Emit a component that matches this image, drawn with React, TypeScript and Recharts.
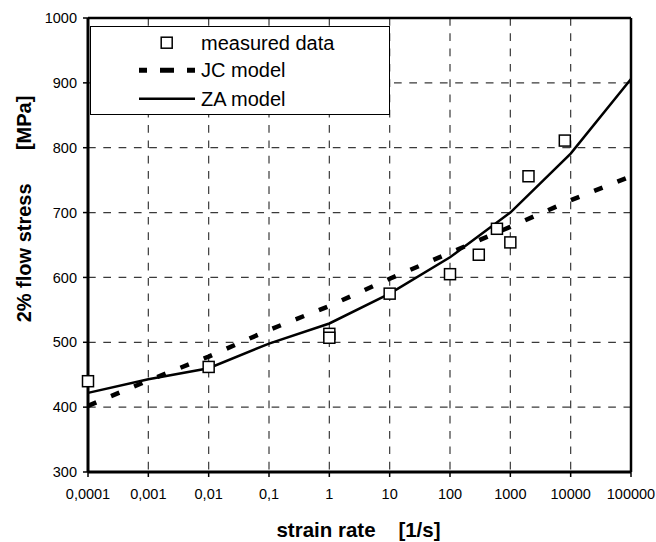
import React from 'react';
import {
  ComposedChart,
  Line,
  Scatter,
  XAxis,
  YAxis,
  CartesianGrid,
  ReferenceLine,
  Label,
} from 'recharts';

// ---- data ----
const xTicks = [0.0001, 0.001, 0.01, 0.1, 1, 10, 100, 1000, 10000, 100000];
const xTickLabels = ['0,0001', '0,001', '0,01', '0,1', '1', '10', '100', '1000', '10000', '100000'];
const yTicks = [300, 400, 500, 600, 700, 800, 900, 1000];

const measuredRate = [0.0001, 0.01, 1, 1, 10, 100, 300, 600, 1000, 2000, 8000];
const measuredStress = [440, 462, 513, 507, 575, 605, 635, 675, 654, 756, 811];

const modelRate = [0.0001, 0.001, 0.01, 0.1, 1, 10, 100, 1000, 10000, 100000];
const jcStress = [402, 441, 478, 519, 556, 598, 638, 678, 719, 756];
const zaStress = [422, 443, 460, 498, 529, 575, 631, 700, 791, 906];

const seriesNames = ['measured data', 'JC model', 'ZA model'];
const xTitle = 'strain rate\u00A0\u00A0\u00A0\u00A0[1/s]';
const yTitle = '2% flow stress\u00A0\u00A0\u00A0\u00A0\u00A0\u00A0[MPa]';

const measuredData = measuredRate.map((x, i) => ({ x, y: measuredStress[i] }));
const jcData = modelRate.map((x, i) => ({ x, y: jcStress[i] }));
const zaData = modelRate.map((x, i) => ({ x, y: zaStress[i] }));

const FONT = '"Liberation Sans", Arial, sans-serif';

const SquareShape = (props: any) => {
  const { cx, cy } = props;
  if (cx == null || cy == null) return null;
  return (
    <rect x={cx - 5.5} y={cy - 5.5} width={11} height={11} fill="#fff" stroke="#000" strokeWidth={1.5} />
  );
};

const fmtX = (v: number) => {
  const i = xTicks.findIndex((t) => Math.abs(Math.log10(t) - Math.log10(v)) < 1e-6);
  return i >= 0 ? xTickLabels[i] : String(v);
};

const LegendBox = () => (
  <div
    style={{
      position: 'absolute',
      left: 90,
      top: 26,
      width: 300,
      height: 89,
      boxSizing: 'border-box',
      border: '1px solid #000',
      background: '#fff',
    }}
  >
    <svg width={298} height={87} style={{ display: 'block' }}>
      <rect x={70.2} y={10.2} width={11} height={11} fill="#fff" stroke="#000" strokeWidth={1.5} />
      <text x={110} y={15.7} dominantBaseline="central" fontFamily={FONT} fontSize={20} fill="#000">
        {seriesNames[0]}
      </text>
      <line
        x1={48}
        y1={43.3}
        x2={104}
        y2={43.3}
        stroke="#000"
        strokeWidth={5}
        strokeDasharray="14 13"
        strokeDashoffset={6}
      />
      <text x={110} y={43.3} dominantBaseline="central" fontFamily={FONT} fontSize={20} fill="#000">
        {seriesNames[1]}
      </text>
      <line x1={48} y1={71.7} x2={104} y2={71.7} stroke="#000" strokeWidth={2.5} />
      <text x={110} y={71.7} dominantBaseline="central" fontFamily={FONT} fontSize={20} fill="#000">
        {seriesNames[2]}
      </text>
    </svg>
  </div>
);

export default function App() {
  return (
    <div style={{ position: 'relative', width: 656, height: 542, background: '#fff', fontFamily: FONT }}>
      <style>{'body{margin:0}'}</style>
      <ComposedChart
        width={656}
        height={542}
        margin={{ top: 18, right: 25, bottom: 40, left: 0 }}
      >
        <CartesianGrid stroke="#3a3a3a" strokeWidth={1.2} strokeDasharray="7.7 7.6" />
        <XAxis
          dataKey="x"
          type="number"
          scale="log"
          domain={[0.0001, 100000]}
          ticks={xTicks}
          interval={0}
          tickFormatter={fmtX}
          height={30}
          axisLine={{ stroke: '#000', strokeWidth: 3 }}
          tickLine={{ stroke: '#000', strokeWidth: 1.5 }}
          tickSize={5}
          tickMargin={12}
          tick={{ fill: '#000', fontSize: 14.5, fontFamily: FONT }}
        >
          <Label
            content={() => (
              <text
                x={358.5}
                y={536.5}
                textAnchor="middle"
                fontFamily={FONT}
                fontSize={20.5}
                fontWeight="bold"
                fill="#000"
              >
                {xTitle}
              </text>
            )}
          />
        </XAxis>
        <YAxis
          dataKey="y"
          type="number"
          domain={[300, 1000]}
          ticks={yTicks}
          interval={0}
          width={88}
          axisLine={{ stroke: '#000', strokeWidth: 3 }}
          tickLine={{ stroke: '#000', strokeWidth: 1.5 }}
          tickSize={5}
          tickMargin={6}
          tick={{ fill: '#000', fontSize: 14.5, fontFamily: FONT }}
        >
          <Label
            content={() => (
              <text
                x={24}
                y={209}
                transform="rotate(-90 24 209)"
                textAnchor="middle"
                dominantBaseline="central"
                fontFamily={FONT}
                fontSize={20}
                fontWeight="bold"
                fill="#000"
              >
                {yTitle}
              </text>
            )}
          />
        </YAxis>
        <ReferenceLine y={1000} stroke="#000" strokeWidth={2.5} />
        <ReferenceLine x={100000} stroke="#000" strokeWidth={2.5} />
        <Line
          data={jcData}
          dataKey="y"
          type="linear"
          stroke="#000"
          strokeWidth={4.5}
          strokeDasharray="9 16"
          dot={false}
          activeDot={false}
          isAnimationActive={false}
          name={seriesNames[1]}
        />
        <Line
          data={zaData}
          dataKey="y"
          type="linear"
          stroke="#000"
          strokeWidth={2.5}
          dot={false}
          activeDot={false}
          isAnimationActive={false}
          name={seriesNames[2]}
        />
        <Scatter
          data={measuredData}
          dataKey="y"
          shape={<SquareShape />}
          isAnimationActive={false}
          name={seriesNames[0]}
        />
      </ComposedChart>
      <LegendBox />
    </div>
  );
}
